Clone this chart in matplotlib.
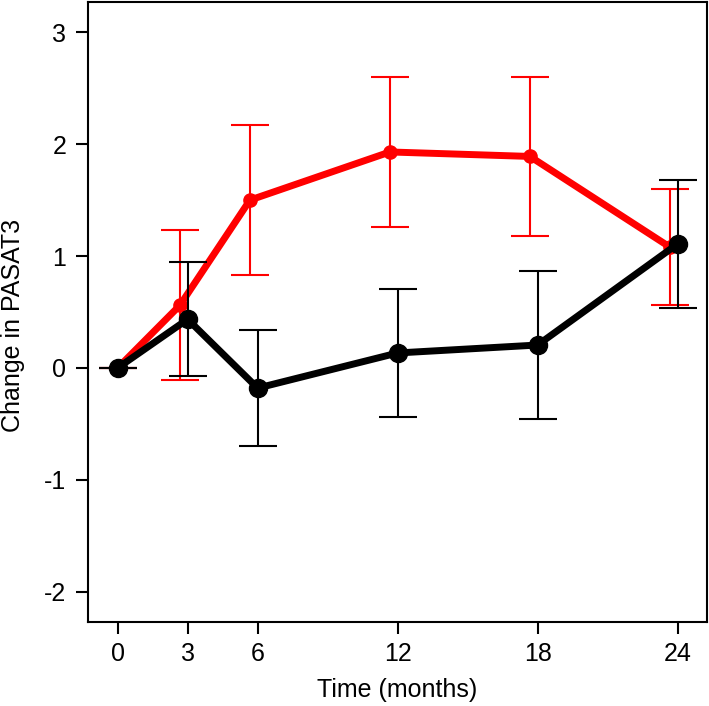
import numpy as np
import matplotlib
matplotlib.use("Agg")
import matplotlib.pyplot as plt

plt.rcParams["font.family"] = ["Liberation Sans", "DejaVu Sans"]
plt.rcParams["axes.unicode_minus"] = False

# data
months = np.array([0, 3, 6, 12, 18, 24])
red_mean = np.array([0.0, 0.56, 1.50, 1.93, 1.89, 1.08])
red_err = np.array([0.0, 0.67, 0.67, 0.67, 0.71, 0.52])
black_mean = np.array([0.0, 0.435, -0.18, 0.134, 0.205, 1.108])
black_err = np.array([0.0, 0.51, 0.52, 0.575, 0.66, 0.575])
xticks = [0, 3, 6, 12, 18, 24]
yticks = [-2, -1, 0, 1, 2, 3]

# red group is dodged slightly left (except baseline)
red_x = np.where(months > 0, months - 0.33, months)

fs = 18

fig = plt.figure(figsize=(7.09, 7.06), dpi=100)
ax = fig.add_axes([88 / 709, 84 / 706, 619 / 709, 620 / 706])

ax.errorbar(red_x, red_mean, yerr=red_err, fmt="none", ecolor="red",
            elinewidth=1.5, capsize=14, capthick=1.5, zorder=2)
ax.plot(red_x, red_mean, color="red", lw=5, marker="o", ms=9.5, zorder=3)

ax.errorbar(months, black_mean, yerr=black_err, fmt="none", ecolor="black",
            elinewidth=1.5, capsize=14, capthick=1.5, zorder=4)
ax.plot(months, black_mean, color="black", lw=5, marker="o", ms=13, zorder=5)

ax.set_xlim(-1.27, 25.26)
ax.set_ylim(-2.27, 3.27)
ax.set_xticks(xticks)
ax.set_yticks(yticks)
ax.set_xticklabels([str(t) for t in xticks])
ax.set_yticklabels([str(t) for t in yticks])
ax.tick_params(direction="out", length=8.5, width=1.5, labelsize=fs)
ax.tick_params(axis="x", pad=6)
ax.tick_params(axis="y", pad=7)

for s in ax.spines.values():
    s.set_linewidth(1.5)

ax.set_xlabel("Time (months)", fontsize=fs)
ax.xaxis.set_label_coords(0.5, -(690 - 622) / 620)
ax.xaxis.label.set_va("center")
ax.set_ylabel("Change in PASAT3", fontsize=fs)
ax.yaxis.set_label_coords(-(88 - 13) / 619, (622 - 325) / 620)
ax.yaxis.label.set_va("center")

fig.savefig("out.png", dpi=100)
